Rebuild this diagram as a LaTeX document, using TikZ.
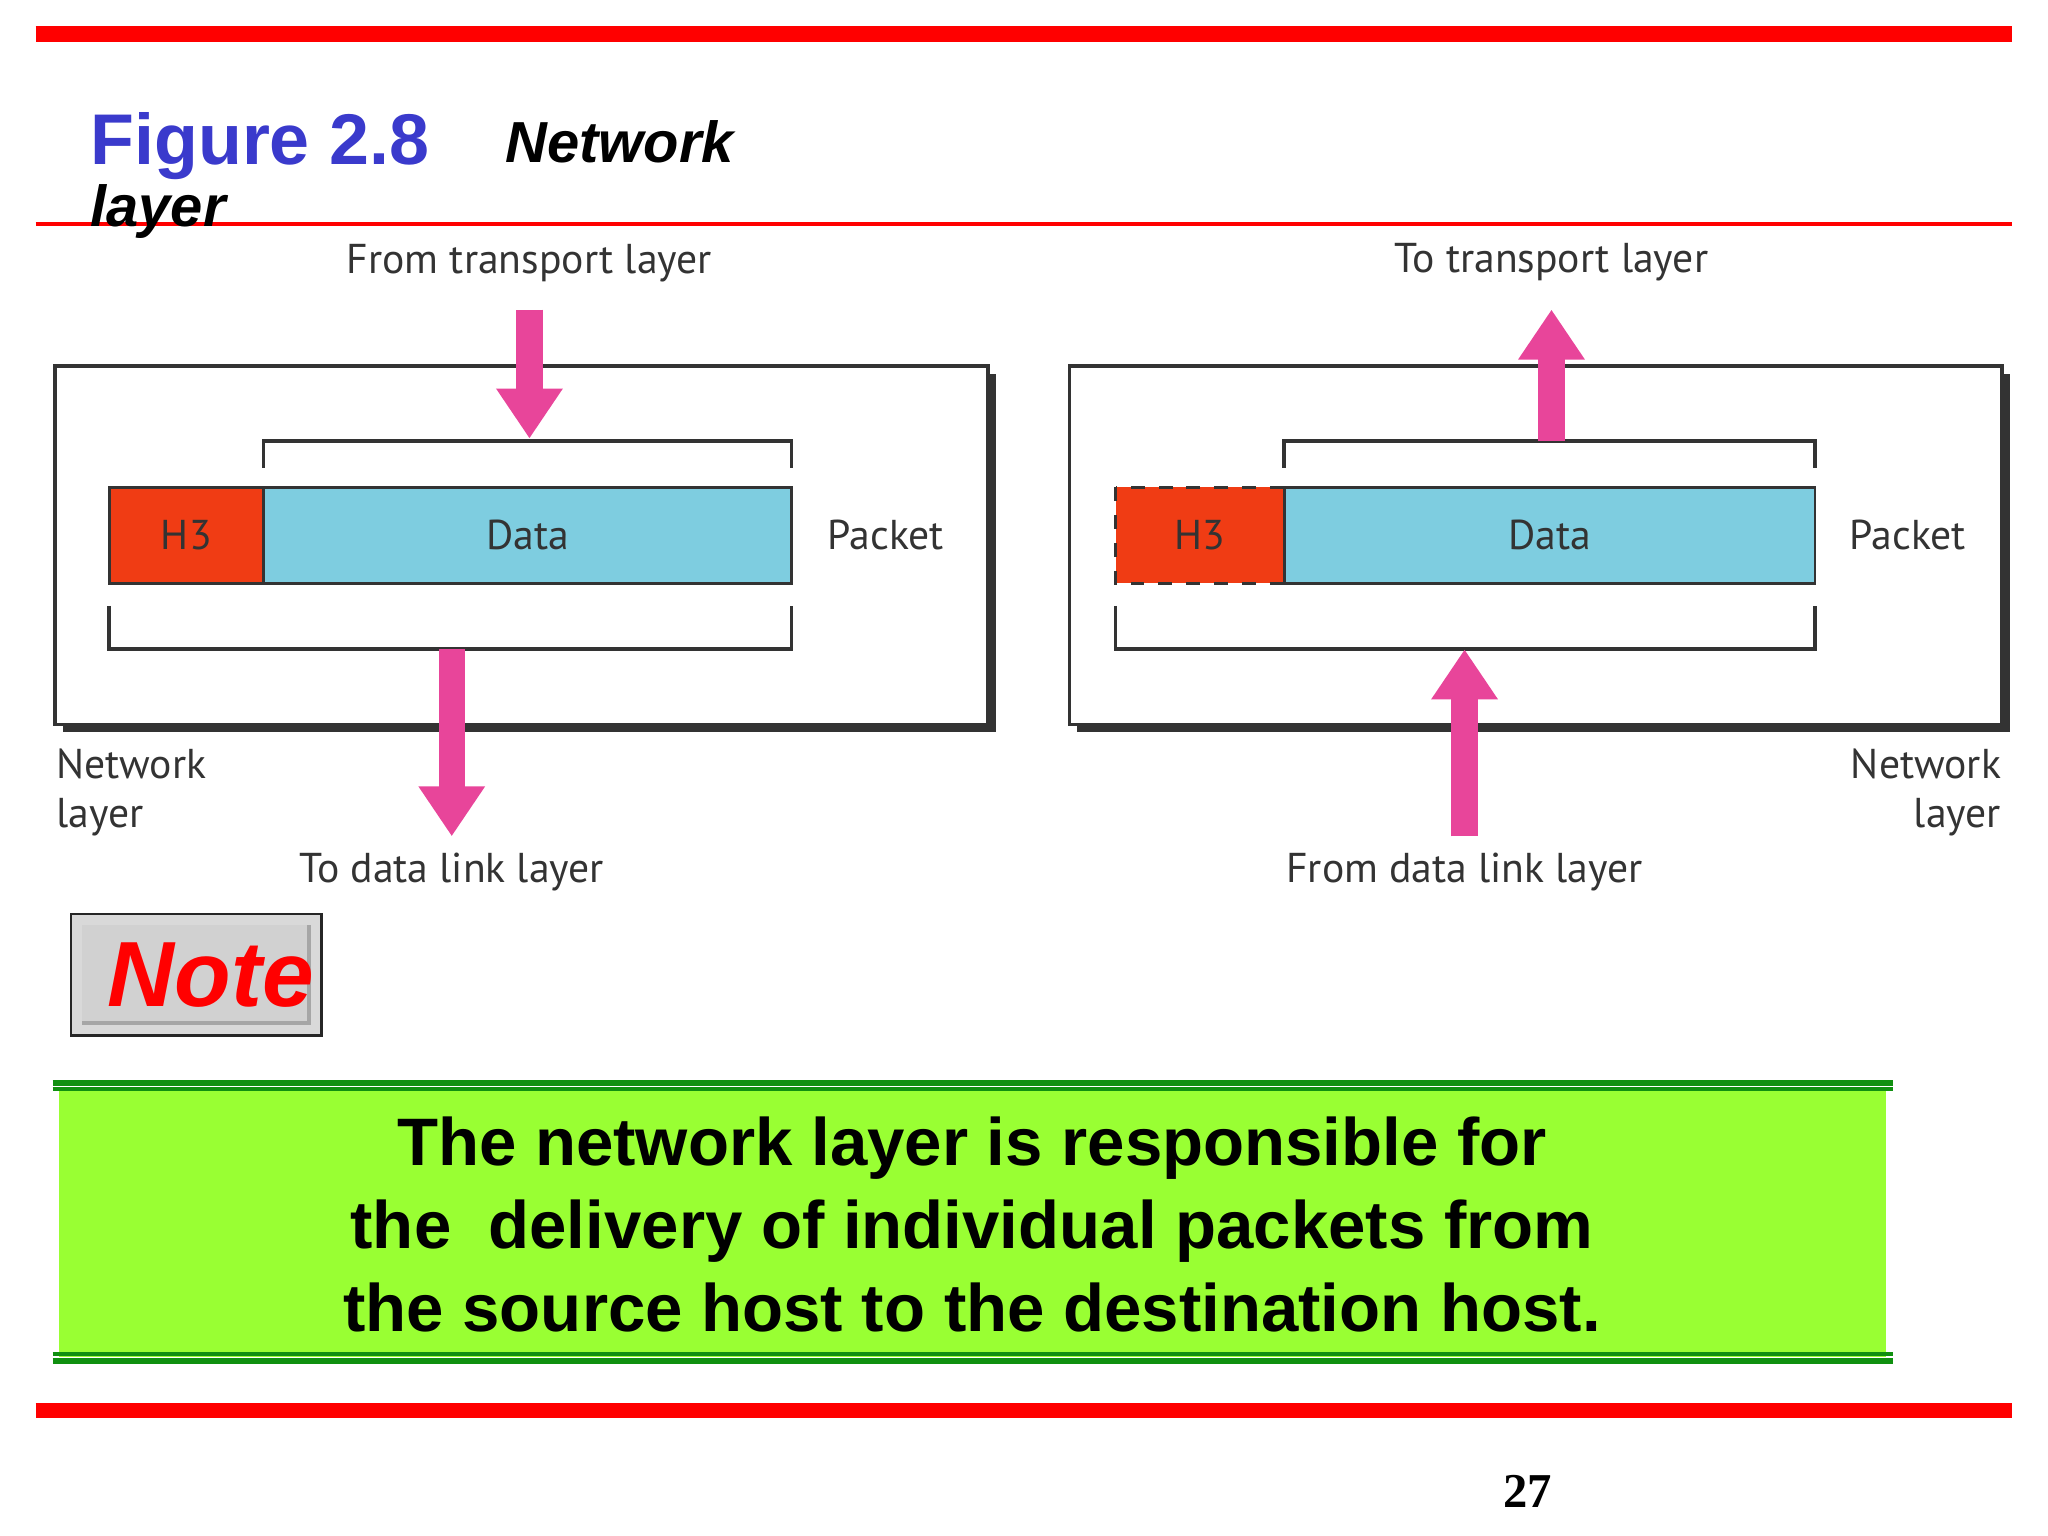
\documentclass[tikz,border=0pt]{standalone}
\usepackage{fontspec}
\setmainfont{Liberation Sans}
\newfontfamily\diag{PT Sans}
\newfontfamily\pgserif{Liberation Serif}
\usetikzlibrary{arrows.meta}
\definecolor{figblue}{HTML}{3A3ACC}
\definecolor{hdr}{HTML}{F03C14}
\definecolor{datab}{HTML}{7ECDE0}
\definecolor{pinkar}{HTML}{E8459A}
\definecolor{notegreen}{HTML}{99FF33}
\definecolor{lineg}{HTML}{109010}
\tikzset{
  lbl/.style={font=\diag\fontsize{9}{10.5}\selectfont, text=black!80},
  box/.style={draw=black!80, line width=0.8pt, fill=white},
  brk/.style={draw=black!80, line width=0.8pt},
  cell/.style={draw=black!80, line width=0.6pt},
  fat/.style={line width=2mm, draw=pinkar, -{Triangle[width=4.8mm,length=3.8mm]}},
}
\begin{document}
\begin{tikzpicture}[x=0.01cm,y=-0.01cm]
\useasboundingbox (0,0) rectangle (1555,1166);
% slide rules
\draw[red, line width=0.12cm] (27,26) -- (1528,26);
\draw[red, line width=0.8pt] (27,170) -- (1528,170);
\draw[red, line width=0.12cm] (27,1071) -- (1528,1071);
% title
\node[anchor=base west, inner sep=0, font=\bfseries\fontsize{15.5}{18}\selectfont, text=figblue] (fig) at (68,125) {Figure 2.8};
\node[anchor=base west, inner sep=0, font=\bfseries\itshape\fontsize{12.5}{15}\selectfont] (tnet) at (383,123) {Network};
\node[anchor=base west, inner sep=0, font=\bfseries\itshape\fontsize{12.5}{15}\selectfont] (tlay) at (68,172) {layer};

% ---- left panel ----
\fill[black!80] (48,284) rectangle (756,556);
\draw[box] (42,278) rectangle (750,550);
\draw[brk] (200,355) -- (200,335) -- (601,335) -- (601,355);
\draw[cell, fill=hdr] (83,370) rectangle (200,443);
\draw[cell, fill=datab] (200,370) rectangle (601,443);
\node[lbl] (lh) at (141.5,406.5) {H3};
\node[lbl] (ld) at (400.5,406.5) {Data};
\draw[brk] (83,460) -- (83,493) -- (601,493) -- (601,460);
\node[lbl, anchor=west] (lp) at (616,406) {Packet};
\node[lbl] (lfrom) at (402,200) {From transport layer};
\coordinate (la1) at (402,235);
\coordinate (la2) at (402,333);
\draw[fat] (la1) -- (la2);
\coordinate (lb1) at (343,493);
\coordinate (lb2) at (343,635);
\draw[fat] (lb1) -- (lb2);
\node[lbl] (lto) at (343,662) {To data link layer};
\node[lbl, anchor=north west, align=left, inner sep=0] (lnet) at (42,568) {Network\\layer};

% ---- right panel ----
\fill[black!80] (818,284) rectangle (1526,556);
\draw[box] (812,278) rectangle (1520,550);
\draw[brk] (975,355) -- (975,335) -- (1378,335) -- (1378,355);
\draw[cell, dashed, fill=hdr] (847,370) rectangle (975,443);
\draw[cell, fill=datab] (975,370) rectangle (1378,443);
\node[lbl] (rh) at (911,406.5) {H3};
\node[lbl] (rd) at (1176.5,406.5) {Data};
\draw[brk] (847,460) -- (847,493) -- (1378,493) -- (1378,460);
\node[lbl, anchor=west] (rp) at (1392,406) {Packet};
\node[lbl] (rto) at (1178,199) {To transport layer};
\coordinate (ra1) at (1178,335);
\coordinate (ra2) at (1178,235);
\draw[fat] (ra1) -- (ra2);
\coordinate (rb1) at (1112,635);
\coordinate (rb2) at (1112,493);
\draw[fat] (rb1) -- (rb2);
\node[lbl] (rfrom) at (1112,662) {From data link layer};
\node[lbl, anchor=north east, align=right, inner sep=0] (rnet) at (1520,568) {Network\\layer};

% ---- note button ----
\fill[black!85] (53,693) rectangle (245,787);
\fill[black!15] (55,695) rectangle (243,785);
\fill[black!35] (62,702) rectangle (236,778);
\fill[black!18] (62,702) rectangle (233,775);
\node[font=\bfseries\itshape\fontsize{20}{24}\selectfont, text=red] (note) at (160,740) {Note};

% ---- green note box ----
\fill[notegreen] (45,826) rectangle (1432,1030);
\draw[lineg, line width=1.3pt] (40,822) -- (1437,822);
\draw[lineg, line width=0.8pt] (40,827) -- (1437,827);
\draw[lineg, line width=0.8pt] (40,1028) -- (1437,1028);
\draw[lineg, line width=1.3pt] (40,1033) -- (1437,1033);
\node[font=\bfseries\fontsize{14.5}{17.9}\selectfont, align=center] (msg) at (738,930) {The network layer is responsible for\\the\ \ delivery of individual packets from\\the source host to the destination host.};

\node[font=\pgserif\bfseries\fontsize{10.5}{12}\selectfont] (pg) at (1160,1132) {27};
\end{tikzpicture}
\end{document}
